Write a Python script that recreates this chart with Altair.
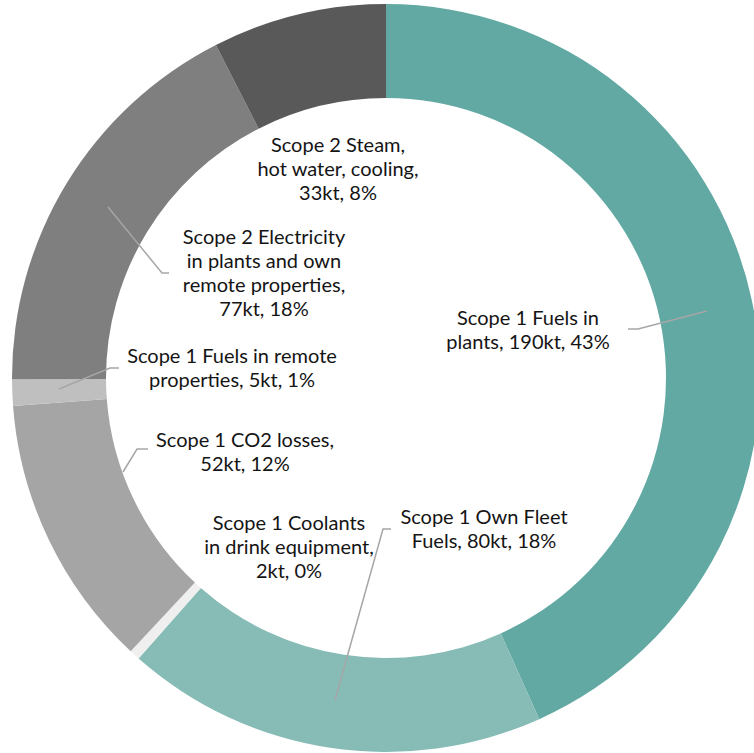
import altair as alt
import pandas as pd

# ---- data ----
categories = [
    "Scope 1 Fuels in plants",
    "Scope 1 Own Fleet Fuels",
    "Scope 1 Coolants in drink equipment",
    "Scope 1 CO2 losses",
    "Scope 1 Fuels in remote properties",
    "Scope 2 Electricity in plants and own remote properties",
    "Scope 2 Steam, hot water, cooling",
]
values = [190, 80, 2, 52, 5, 77, 33]
colors = ["#62A9A4", "#87BCB6", "#EFEFEF", "#A5A5A5", "#BFBFBF", "#7F7F7F", "#595959"]

label_lines = [
    ["Scope 1 Fuels in", "plants, 190kt, 43%"],
    ["Scope 1 Own Fleet", "Fuels, 80kt, 18%"],
    ["Scope 1 Coolants", "in drink equipment,", "2kt, 0%"],
    ["Scope 1 CO2 losses,", "52kt, 12%"],
    ["Scope 1 Fuels in remote", "properties, 5kt, 1%"],
    ["Scope 2 Electricity", "in plants and own", "remote properties,", "77kt, 18%"],
    ["Scope 2 Steam,", "hot water, cooling,", "33kt, 8%"],
]
# label anchor (centre x, first-line y) in chart pixels
label_x = [528, 484, 289, 245, 232, 264, 338]
label_y = [319, 518, 524, 441, 357, 238, 146]

# leader lines (group, x, y)
leader_group = [0, 0, 0, 1, 1, 1, 3, 3, 3, 4, 4, 4, 5, 5, 5]
leader_x = [707, 638, 628, 335, 383, 391, 123, 137, 148, 59, 110, 119, 108, 162, 169]
leader_y = [311, 329, 329, 700, 529, 529, 472, 449, 449, 389, 368, 368, 207, 273, 273]

W, H = 754, 753
CX, CY = 386, 378
R_IN, R_OUT = 280, 374
LINE_H = 24

df_arc = pd.DataFrame({"category": categories, "value": values, "idx": list(range(len(values)))})

rows = []
for i, lines in enumerate(label_lines):
    for j, t in enumerate(lines):
        rows.append({"x": label_x[i], "y": label_y[i] + j * LINE_H, "text": t})
df_text = pd.DataFrame(rows)

df_lines = pd.DataFrame({
    "group": leader_group,
    "x": leader_x,
    "y": leader_y,
    "seq": list(range(len(leader_x))),
})

xs = alt.Scale(domain=[0, W], range=[0, W], nice=False, zero=False)
ys = alt.Scale(domain=[0, H], range=[0, H], nice=False, zero=False)

arc = alt.Chart(df_arc).mark_arc(innerRadius=R_IN, outerRadius=R_OUT).encode(
    theta=alt.Theta("value:Q", stack=True),
    color=alt.Color("category:N", scale=alt.Scale(domain=categories, range=colors), legend=None),
    order=alt.Order("idx:Q"),
    x=alt.value(CX),
    y=alt.value(CY),
)

leaders = alt.Chart(df_lines).mark_line(color="#A6A6A6", strokeWidth=1.5).encode(
    x=alt.X("x:Q", scale=xs, axis=None),
    y=alt.Y("y:Q", scale=ys, axis=None),
    detail="group:N",
    order="seq:Q",
)

text = alt.Chart(df_text).mark_text(
    font="Lato", fontSize=20, color="#141414", align="center", baseline="middle"
).encode(
    x=alt.X("x:Q", scale=xs, axis=None),
    y=alt.Y("y:Q", scale=ys, axis=None),
    text="text:N",
)

chart = alt.layer(arc, leaders, text).properties(
    width=W, height=H, padding=0, autosize=alt.AutoSizeParams(type="none"), background="white"
).configure_view(stroke=None)

chart.save("out.html", embed_options={"renderer": "svg", "actions": False})
